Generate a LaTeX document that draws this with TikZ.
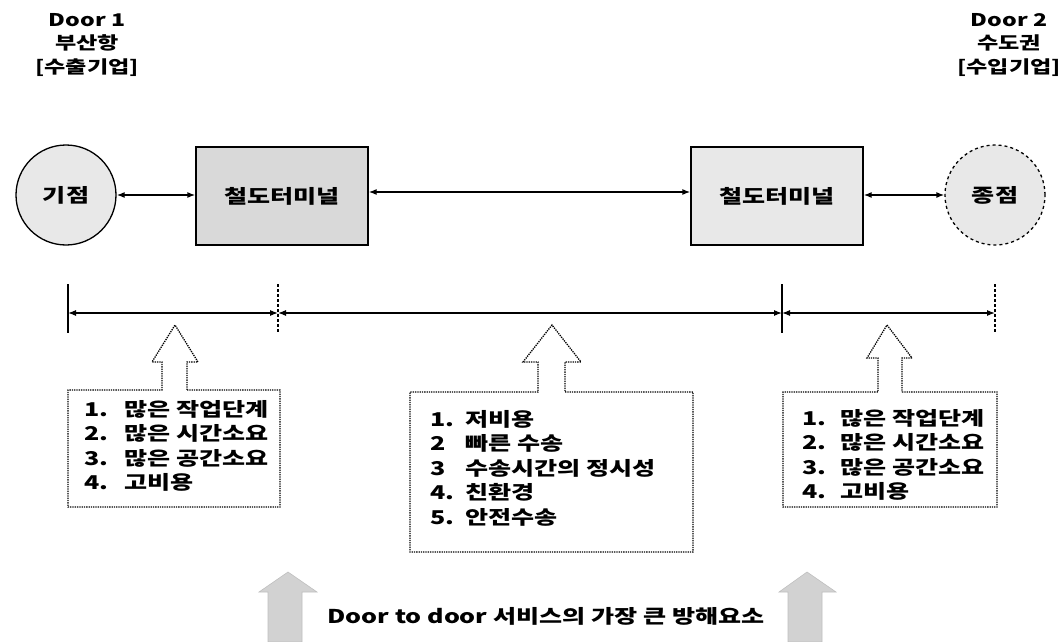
\documentclass[tikz,border=0pt]{standalone}
\usepackage{fontspec}
\setmainfont{Liberation Sans}
\newfontfamily\kr[FakeStretch=1.32]{Noto Sans CJK KR}
\usetikzlibrary{arrows.meta}
\tikzset{
  txt/.style={font=\kr\bfseries\fontsize{19}{23.5}\selectfont, inner sep=0pt, align=center},
  ttl/.style={font=\kr\bfseries\fontsize{17.5}{23.5}\selectfont, inner sep=0pt, align=center},
  lst/.style={font=\kr\bfseries\fontsize{19}{24.5}\selectfont, inner sep=0pt, align=left, anchor=north west},
  endpt/.style={circle, draw=black, line width=1.3pt, fill=gray!18, minimum size=100pt, inner sep=0pt},
  termbox/.style={draw=black, line width=1.3pt, minimum width=172pt, minimum height=98pt, inner sep=0pt},
  link/.style={{Latex[length=8pt,width=6pt]}-{Latex[length=8pt,width=6pt]}, line width=1.3pt},
  tick/.style={line width=1.3pt},
  outline/.style={line width=1.3pt, densely dotted},
  bigarrow/.style={fill=gray!35, draw=gray!50, line width=0.6pt},
}
\newcommand{\numi}[2]{\makebox[#1][l]{#2}}
\begin{document}
\begin{tikzpicture}[x=1pt,y=-1pt]
\useasboundingbox (0,0) rectangle (1063,642);
% titles
\node[ttl] (d1) at (87,45) {Door 1\\부산항\\{[}수출기업{]}};
\node[ttl] (d2) at (1009,45) {Door 2\\수도권\\{[}수입기업{]}};
% top row
\node[endpt] (c1) at (66,195) {};
\node[txt] at (c1) {기점};
\node[termbox, fill=gray!30] (b1) at (282,196) {};
\node[txt] at (b1.center) {철도터미널};
\node[termbox, fill=gray!18] (b2) at (777,196) {};
\node[txt] at (b2.center) {철도터미널};
\node[endpt, dashed] (c2) at (995,195) {};
\node[txt] at (c2) {종점};
\draw[link] (c1.east) -- (b1.west |- c1.east);
\draw[link] (b1.east |- 0,192) -- (b2.west |- 0,192);
\draw[link] (b2.east |- c2.east) -- (c2.west);
% timeline
\coordinate (t1) at (68,313);
\coordinate (t2) at (278,313);
\coordinate (t3) at (782,313);
\coordinate (t4) at (995,313);
\draw[tick] (68,284) -- (68,333);
\draw[tick, densely dashed] (278,284) -- (278,333);
\draw[tick] (782,284) -- (782,333);
\draw[tick, densely dashed] (995,284) -- (995,333);
\draw[link, line width=1.1pt] (t1) -- (t2);
\draw[link, line width=1.1pt] (t2) -- (t3);
\draw[link, line width=1.1pt] (t3) -- (t4);
% callout boxes with hollow arrows
\draw[outline] (187,390) -- (280,390) -- (280,507) -- (68,507) -- (68,390) -- (162,390)
  -- (162,362) -- (152,362) -- (175,325) -- (198,362) -- (187,362) -- cycle;
\draw[outline] (565,392) -- (693,392) -- (693,552) -- (410,552) -- (410,392) -- (538,392)
  -- (538,362) -- (523,362) -- (552,325) -- (581,362) -- (565,362) -- cycle;
\draw[outline] (902,392) -- (997,392) -- (997,507) -- (783,507) -- (783,392) -- (878,392)
  -- (878,358) -- (867,358) -- (887,325) -- (912,358) -- (902,358) -- cycle;
\node[lst] (l1) at (84,400) {\numi{40pt}{1.}많은 작업단계\\\numi{40pt}{2.}많은 시간소요\\\numi{40pt}{3.}많은 공간소요\\\numi{40pt}{4.}고비용};
\node[lst] (l2) at (430,410) {\numi{35pt}{1.}저비용\\\numi{35pt}{2}빠른 수송\\\numi{35pt}{3}수송시간의 정시성\\\numi{35pt}{4.}친환경\\\numi{35pt}{5.}안전수송};
\node[lst] (l3) at (802,409) {\numi{38pt}{1.}많은 작업단계\\\numi{38pt}{2.}많은 시간소요\\\numi{38pt}{3.}많은 공간소요\\\numi{38pt}{4.}고비용};
% bottom
\draw[bigarrow] (268,642) -- (268,592) -- (259,592) -- (288,572) -- (317,592) -- (302,592) -- (302,642) -- cycle;
\draw[bigarrow] (788,642) -- (788,592) -- (779,592) -- (807,572) -- (836,592) -- (822,592) -- (822,642) -- cycle;
\node[txt] (bt) at (546,616) {Door to door 서비스의 가장 큰 방해요소};
\end{tikzpicture}
\end{document}
